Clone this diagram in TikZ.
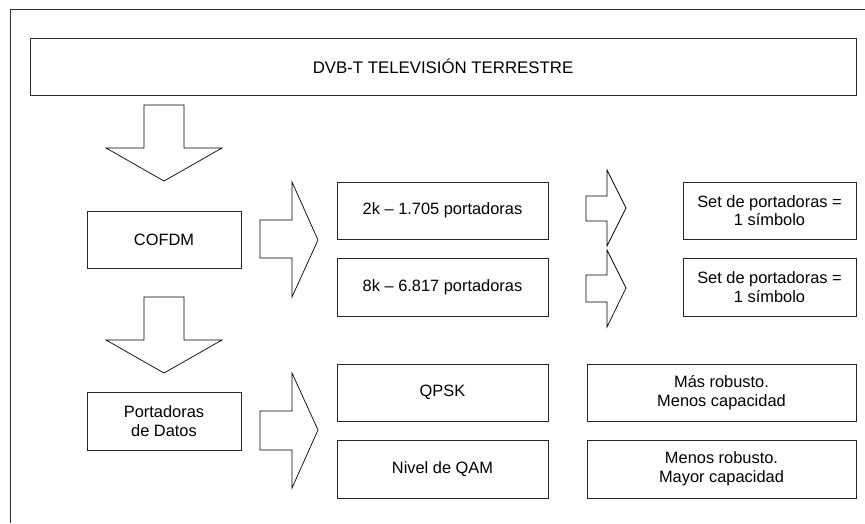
\documentclass[tikz,border=0pt]{standalone}
\usepackage{fontspec}
\setmainfont{Liberation Sans}
\begin{document}
\begin{tikzpicture}[x=1pt,y=-1pt,
  every node/.style={font=\fontsize{16.4}{18.6}\selectfont},
  box/.style={draw=black!85, line width=0.8pt, rectangle, inner sep=0pt,
    align=center, minimum height=57pt},
  blockarrow/.style={draw=black, line width=0.7pt, line join=miter, fill=white}]
\useasboundingbox (0,0) rectangle (865,523);

% page frame (only top and left edges fall inside)
\draw[line width=1pt, black!80] (10,523) -- (10,9.5) -- (865,9.5);

% boxes
\node[box, minimum width=826pt, font=\fontsize{16.8}{19}\selectfont] (title) at (443,66.5) {DVB-T TELEVISIÓN TERRESTRE};
\node[box, minimum width=154pt] (cofdm) at (164,239.5) {COFDM};
\node[box, minimum width=154pt, minimum height=58pt] (datos) at (164,421) {Portadoras\\de Datos};
\node[box, minimum width=211pt] (k2) at (442.5,210.5) {2k -- 1.705 portadoras};
\node[box, minimum width=211pt, minimum height=58pt] (k8) at (442.5,287) {8k -- 6.817 portadoras};
\node[box, minimum width=173pt] (set1) at (769.5,210.5) {Set de portadoras =\\1 símbolo};
\node[box, minimum width=173pt, minimum height=58pt] (set2) at (769.5,287) {Set de portadoras =\\1 símbolo};
\node[box, minimum width=211pt] (qpsk) at (442.5,392.5) {QPSK};
\node[box, minimum width=211pt, minimum height=58pt] (qam) at (442.5,469.5) {Nivel de QAM};
\node[box, minimum width=269pt] (mas) at (721.5,392.5) {Más robusto.\\Menos capacidad};
\node[box, minimum width=269pt, minimum height=58pt] (menos) at (721.5,469) {Menos robusto.\\Mayor capacidad};

% block arrows pointing down
\draw[blockarrow] (144,105) -- (184,105) -- (184,148) -- (222,148) -- (164,181)
  -- (106,148) -- (144,148) -- cycle;
\draw[blockarrow] (144,297) -- (184,297) -- (184,340) -- (222,340) -- (164,373)
  -- (106,340) -- (144,340) -- cycle;

% large block arrows pointing right
\draw[blockarrow] (260,220) -- (292,220) -- (292,182) -- (318,240) -- (292,297)
  -- (292,258) -- (260,258) -- cycle;
\draw[blockarrow] (260,411) -- (292,411) -- (292,373) -- (318,430) -- (292,488)
  -- (292,450) -- (260,450) -- cycle;

% small block arrows pointing right
\draw[blockarrow] (586,196) -- (607,196) -- (607,170) -- (626,208) -- (607,246)
  -- (607,221) -- (586,221) -- cycle;
\draw[blockarrow] (586,275) -- (607,275) -- (607,250) -- (626,288) -- (607,327)
  -- (607,302) -- (586,302) -- cycle;
\end{tikzpicture}
\end{document}
